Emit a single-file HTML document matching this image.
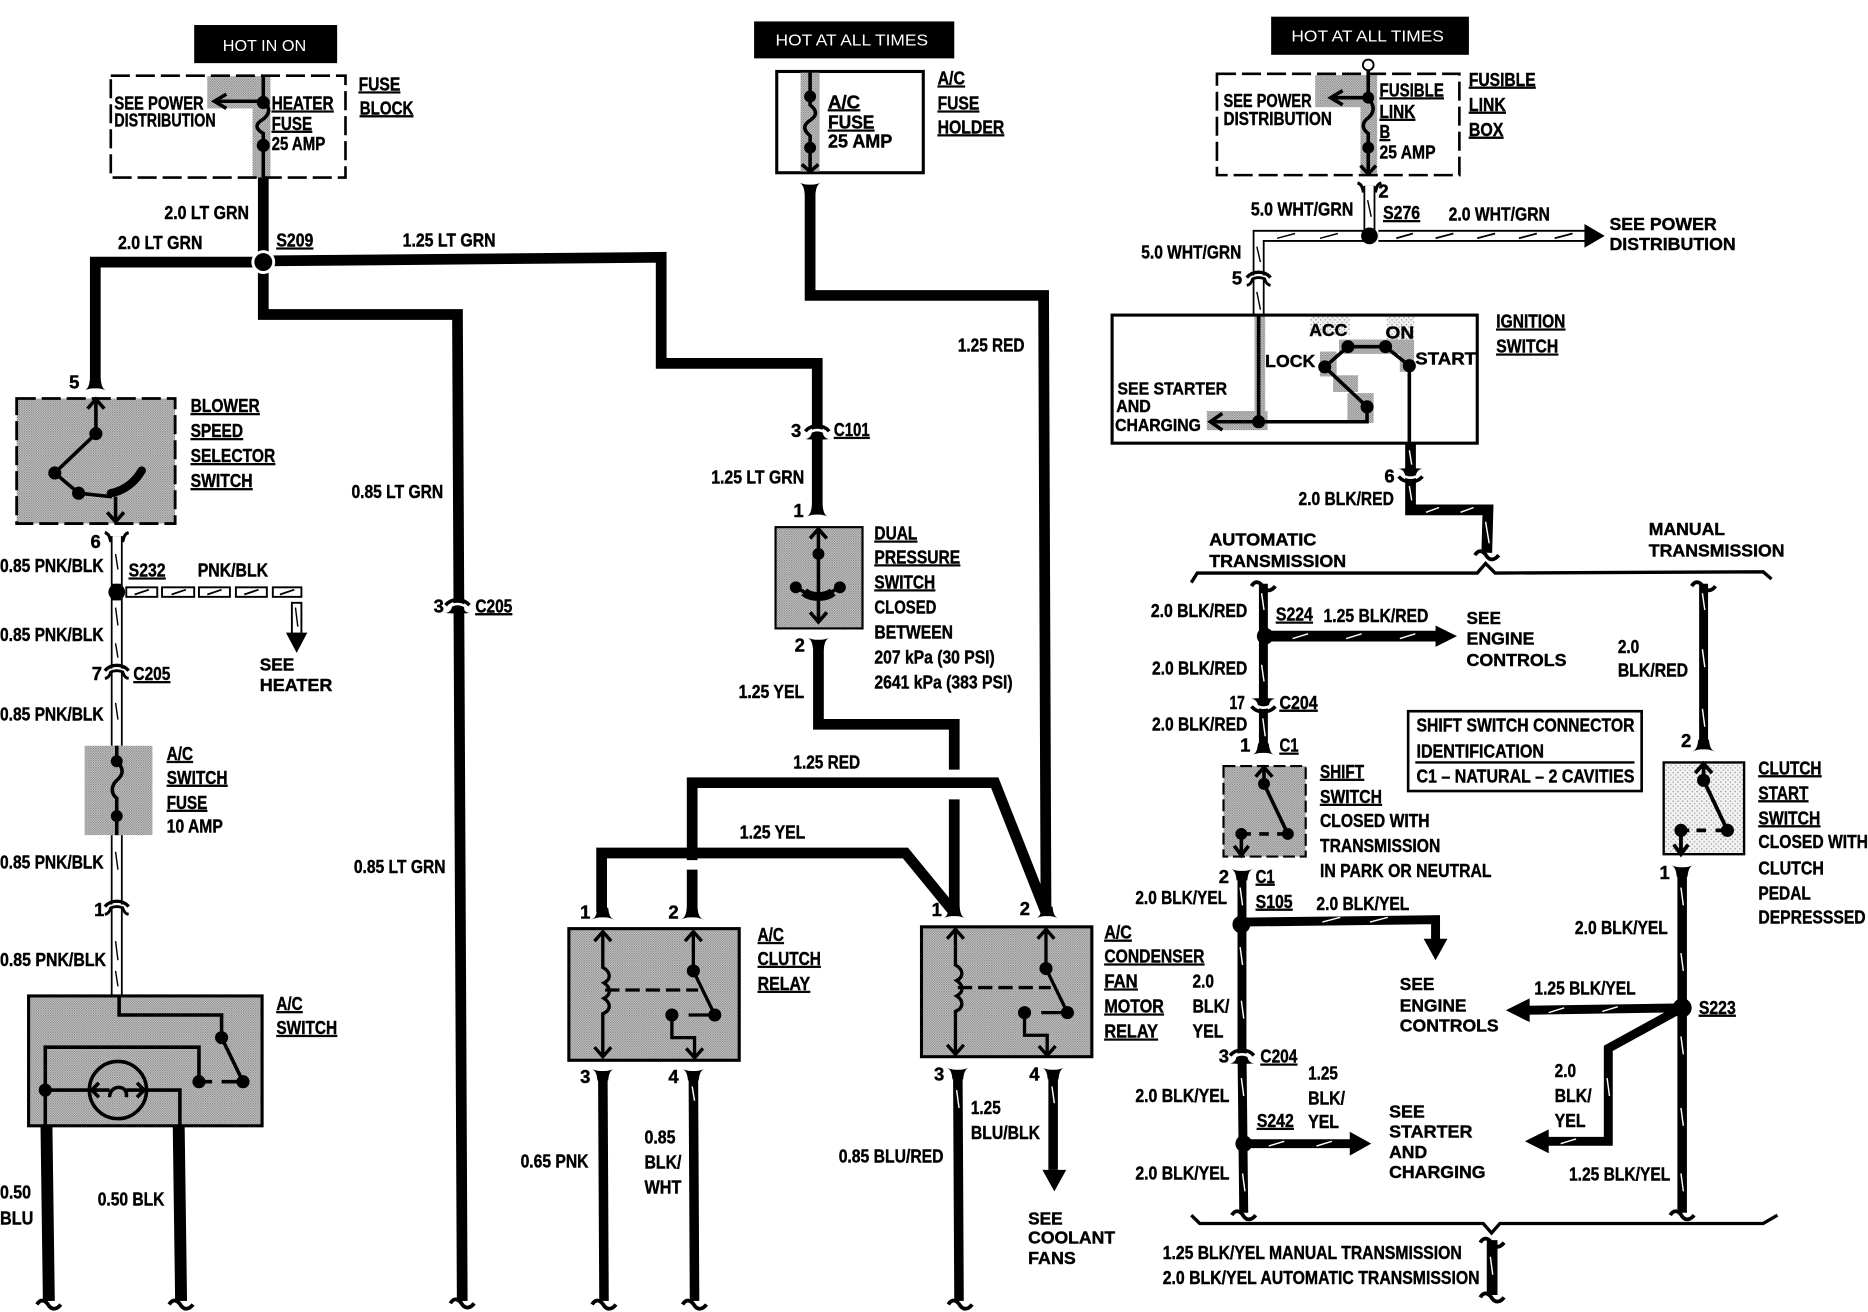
<!DOCTYPE html>
<html><head><meta charset="utf-8"><title>Wiring diagram</title>
<style>
html,body{margin:0;padding:0;background:#fff}
svg{display:block}
text{font:bold 15.5px "Liberation Sans",sans-serif;fill:#000;stroke:#000;stroke-width:.35}
.u{text-decoration:underline}
.w{font-weight:bold;font-size:15px}
.h{fill:#fff;stroke:none;font-weight:normal;font-size:13.5px}
.k{fill:none;stroke:#000;stroke-linecap:butt;stroke-linejoin:miter}
.t10{stroke-width:10}.t9{stroke-width:9}.t8{stroke-width:8}.t7{stroke-width:7.5}.t3{stroke-width:3}.t2{stroke-width:2}
.wo{fill:none;stroke:#000;stroke-width:10}
.wi{fill:none;stroke:#fff;stroke-width:7}
.s{fill:none;stroke:#fff;stroke-width:1.2}
.b{fill:none;stroke:#000;stroke-width:1.2}
</style></head>
<body>
<svg width="1868" height="1312" viewBox="0 0 1568 1101.3" preserveAspectRatio="none" xmlns="http://www.w3.org/2000/svg">
<defs>
<pattern id="g" width="2" height="2" patternUnits="userSpaceOnUse"><rect width="2" height="2" fill="#d2d2d2"/><rect width="1" height="1" fill="#777"/><rect x="1" y="1" width="1" height="1" fill="#8c8c8c"/></pattern>
<pattern id="l" width="4" height="4" patternUnits="userSpaceOnUse"><rect width="4" height="4" fill="#f2f2f2"/><rect width="1" height="1" fill="#888"/><rect x="2" y="2" width="1" height="1" fill="#999"/></pattern>
<g id="cd"><path d="M-10 0C-6-1-5-5-4.500-10H4.500C5-5 6-1 10 0C5-2 3-2 0-2C-3-2-5-2-10 0Z"/></g>
<g id="c2">
<path d="M-8 2C-3-2 3-2 8 2" fill="none" stroke="#fff" stroke-width="2.200"/>
<path d="M-10 0C-5-6 5-6 10 0" fill="none" stroke="#000" stroke-width="3"/>
<path d="M-10 6.500C-6 6-5 3-4.500 1H4.500C5 3 6 6 10 6.500C6 7 4 7 0 7C-4 7-6 7-10 6.500Z"/>
</g>
<g id="c2w">
<path d="M-8 2C-3-2 3-2 8 2" fill="none" stroke="#fff" stroke-width="3"/>
<path d="M-10 0C-5-6 5-6 10 0" fill="none" stroke="#000" stroke-width="2.800"/>
<path d="M-10 6.500C-7 6-6 4-5 1Q0-1 5 1C6 4 7 6 10 6.500" fill="none" stroke="#000" stroke-width="2.400"/>
</g>
<g id="cuw"><path d="M-10 0C-7 1-6 3-5 8M10 0C7 1 6 3 5 8" fill="none" stroke="#000" stroke-width="2.600"/></g>
<g id="sq"><path d="M-10 2C-7-3-3-2 0 3C3 7 7 6 10 2" fill="none" stroke="#000" stroke-width="3.200"/></g>
<g id="relay">
<path d="M0 3V33C7 37 7 43 1 46C7 50 7 56 1 59C7 63 7 69 0 72V108M-7 11L0 3L7 11M-7 100L0 108L7 100" fill="none" stroke="#000" stroke-width="2.800"/>
<path d="M2 52H80" fill="none" stroke="#000" stroke-width="2.800" stroke-dasharray="12 5"/>
<path d="M76 3V36L94 73H72M69 11L76 3L83 11M58 73V92H77V109M70 101L77 109L84 101" fill="none" stroke="#000" stroke-width="2.800"/>
<circle cx="76" cy="36" r="5.500"/><circle cx="94" cy="73" r="5.500"/><circle cx="58" cy="73" r="5.500"/>
</g>
</defs>
<rect width="1568" height="1102" fill="#fff"/>

<!-- Black headers -->
<rect x="163" y="21" width="120" height="32"/>
<text class="h" x="187" y="43" textLength="70" lengthAdjust="spacingAndGlyphs">HOT IN ON</text>
<rect x="633" y="18" width="168" height="31"/>
<text class="h" x="651" y="38" textLength="128" lengthAdjust="spacingAndGlyphs">HOT AT ALL TIMES</text>
<rect x="1067" y="14" width="166" height="32"/>
<text class="h" x="1084" y="35" textLength="128" lengthAdjust="spacingAndGlyphs">HOT AT ALL TIMES</text>

<!-- Fuse block -->
<rect x="174" y="64" width="52" height="27" fill="url(#g)"/>
<rect x="212" y="64" width="15" height="85" fill="url(#g)"/>
<rect x="93" y="63.500" width="197" height="85.500" fill="none" stroke="#000" stroke-width="2.200" stroke-dasharray="16 5"/>
<path class="k t3" d="M221 64V85H183M190 79L180 85L190 91"/>
<path class="k t3" d="M221 85C227 90 227 95 221 100C214 104 214 108 221 112V149"/>
<circle cx="221" cy="86" r="5.500"/><circle cx="221" cy="122" r="5.500"/>

<!-- Main left wires -->
<path class="k t9" d="M221 149V220"/>
<path class="k t9" d="M221 220H80V320"/>
<path class="k t9" d="M221 220V264H384L388 1092"/>
<path class="k t9" d="M221 219L555 216V305H686V425"/>
<circle cx="221" cy="220" r="10" fill="#fff"/><circle cx="221" cy="220" r="7.500"/>
<use href="#cd" x="80" y="328"/>
<use href="#c2" x="384" y="508"/>
<use href="#sq" x="388" y="1092"/>

<!-- Blower switch -->
<rect x="14" y="334.500" width="133" height="105" fill="url(#g)" stroke="#000" stroke-width="2.400" stroke-dasharray="16 5"/>
<path class="k t3" d="M80.500 335V364L46 397M73.500 343L80.500 335L87.500 343M46 397L66 414L94 417M97 417V438M90 430L97 438L104 430"/>
<path d="M93 414C104 412 113 405 119 395" fill="none" stroke="#000" stroke-width="7" stroke-linecap="round"/>
<circle cx="80.500" cy="364" r="5.500"/><circle cx="46" cy="397" r="5.500"/><circle cx="66" cy="414" r="5.500"/>

<!-- PNK/BLK white wires -->
<path class="wo" d="M98 450V626M98 701V836"/>
<path class="wi" d="M98 450V490M98 504V626M98 701V836"/>
<path class="b" d="M97 465L99 478M97 510L99 525M97 540L99 552M97 590L99 604M97 715L99 730M97 790L99 806M97 815L99 828"/>
<use href="#cuw" x="98" y="447"/>
<use href="#c2w" x="98" y="563"/>
<use href="#c2w" x="98" y="761"/>
<circle cx="98" cy="497" r="7"/>
<g fill="#fff" stroke="#000" stroke-width="1.600">
<rect x="106" y="493" width="26" height="8"/><rect x="136" y="493" width="27" height="8"/><rect x="167" y="493" width="26" height="8"/><rect x="198" y="493" width="26" height="8"/><rect x="229" y="493" width="24" height="8"/>
</g>
<path class="k" stroke-width="1.500" d="M113 499L125 495M144 499L156 495M174 499L186 495M205 499L217 495M235 499L247 495"/>
<rect x="245" y="506" width="8" height="26" fill="#fff" stroke="#000" stroke-width="1.600"/>
<path class="b" d="M248 510L250 526"/>
<path d="M240 531H258L249 548Z"/>

<!-- AC switch fuse -->
<rect x="71" y="626" width="57" height="75" fill="url(#g)"/>
<path class="k t3" d="M98 626V639C104 645 104 650 98 655C93 660 93 666 98 670V701"/>
<circle cx="98" cy="639" r="5"/><circle cx="98" cy="685" r="5"/>

<!-- AC switch -->
<rect x="24" y="836" width="196" height="109" fill="url(#g)" stroke="#000" stroke-width="2.600"/>
<path class="k t3" d="M100 836V852H186V871L204 908M204 908H186M178 908H172M167 908V879H38V945M38 915H75M123 915H151V945"/>
<circle cx="186" cy="871" r="5.500"/><circle cx="204" cy="908" r="5.500"/><circle cx="167" cy="908" r="5.500"/><circle cx="38" cy="915" r="5.500"/>
<circle cx="99" cy="915" r="24" fill="none" stroke="#000" stroke-width="3"/>
<path class="k t3" d="M78 915H92M92 921C92 910 108 910 106 921M106 915H120M83 909L77 915L83 921M115 909L121 915L115 921"/>
<path class="k t10" d="M39 945L41 1092M150 945L152 1092"/>
<use href="#sq" x="41" y="1093"/><use href="#sq" x="152" y="1093"/>

<!-- AC fuse holder -->
<rect x="652" y="60" width="123" height="85" fill="none" stroke="#000" stroke-width="2.600"/>
<rect x="672" y="61" width="16" height="83" fill="url(#g)"/>
<path class="k t3" d="M680 61V88C686 93 686 97 680 101C674 105 674 109 680 114V144M673 138L680 144L687 138"/>
<circle cx="680" cy="81" r="5"/><circle cx="680" cy="124" r="5"/>
<use href="#cd" transform="translate(680,153) scale(1,-1)"/>
<path class="k t9" d="M680 158V248H876L878 763"/>

<!-- dual pressure -->
<use href="#c2" x="686" y="362"/>
<use href="#cd" x="686" y="434"/>
<rect x="651" y="442.500" width="73" height="85" fill="url(#g)" stroke="#000" stroke-width="1.800"/>
<path class="k t3" d="M687 443V522M680 452L687 444L694 452M680 514L687 522L694 514M668 493L677 498M696 498L705 493"/>
<path d="M675 497C681 502 693 502 699 497" fill="none" stroke="#000" stroke-width="7.500"/>
<circle cx="687" cy="465" r="5"/><circle cx="668" cy="493" r="5"/><circle cx="705" cy="493" r="5"/>
<use href="#cd" transform="translate(687,535) scale(1,-1)"/>

<!-- relay feeds -->
<path class="k t9" d="M687 543V608H801V646M801 671V766"/>
<path class="k t9" d="M581 722V657H835L878 766"/>
<path class="k t9" d="M581 730V766"/>
<path class="k t9" d="M505 766V716H760L801 766"/>
<use href="#cd" x="506" y="772"/><use href="#cd" x="581" y="772"/><use href="#cd" x="801" y="771"/><use href="#cd" x="879" y="771"/>

<rect x="477.500" y="779.500" width="143" height="110.500" fill="url(#g)" stroke="#000" stroke-width="2.600"/>
<rect x="773.500" y="778" width="143" height="109" fill="url(#g)" stroke="#000" stroke-width="2.600"/>
<use href="#relay" x="506" y="779"/>
<use href="#relay" x="802" y="777"/>

<use href="#cd" transform="translate(506,897) scale(1,-1)"/><use href="#cd" transform="translate(582,897) scale(1,-1)"/><use href="#cd" transform="translate(804,896) scale(1,-1)"/><use href="#cd" transform="translate(884,896) scale(1,-1)"/>
<path class="k t8" d="M506 900L507 1092M582 900L583 1092M804 900L805 1092M884 900V982"/>
<path d="M875 982H895L885 1000Z"/>
<path class="s" d="M581 912L583 924M803 915L805 930M883 912L885 926"/>
<use href="#sq" x="507" y="1093"/><use href="#sq" x="583" y="1093"/><use href="#sq" x="806" y="1093"/>

<!-- Fusible link -->
<rect x="1104" y="63" width="46" height="27" fill="url(#g)"/>
<rect x="1142" y="63" width="14" height="84" fill="url(#g)"/>
<rect x="1021.500" y="62" width="203.500" height="85" fill="none" stroke="#000" stroke-width="2.200" stroke-dasharray="16 5"/>
<circle cx="1148.500" cy="54.500" r="4.500" fill="#fff" stroke="#000" stroke-width="1.600"/>
<path class="k t3" d="M1148.500 59V82H1120M1127 76L1117 82L1127 88"/>
<path class="k t3" d="M1148.500 82C1154 89 1154 94 1148.500 99C1143 103 1143 108 1148.500 112V145M1142 139L1148.500 146L1155 139"/>
<circle cx="1148.500" cy="82" r="5"/><circle cx="1148.500" cy="124" r="5"/>
<path class="wo" d="M1149.500 156V198H1056.500V264"/>
<path class="wi" d="M1149.500 156V198H1056.500V264"/>
<use href="#cuw" x="1149.500" y="153.500"/>
<path class="b" d="M1148 168L1151 182M1072 200L1087 196M1108 200L1123 196M1055 207L1058 220M1055 245L1058 260"/>
<circle cx="1149.500" cy="198" r="7"/>
<path class="wo" d="M1157 198H1331"/>
<path class="wi" d="M1157 198H1330"/>
<path class="k" stroke-width="1.500" d="M1172 200L1186 196M1205 200L1220 196M1240 200L1255 196M1275 200L1290 196M1305 200L1320 196"/>
<path d="M1330 188L1347 198L1330 208Z"/>
<use href="#c2w" x="1056.500" y="233"/>

<!-- Ignition switch -->
<path d="M1053 264H1062V355H1053ZM1013 345H1064V361H1013ZM1108 295H1122V316H1108ZM1119 315H1140V329H1119ZM1131 330H1153V355H1131ZM1124 285H1187V297H1124ZM1175 294H1187V312H1175Z" fill="url(#g)"/>
<path d="M1100 266H1133V281H1100ZM1164 266H1187V285H1164Z" fill="url(#l)"/>
<rect x="933.500" y="264.500" width="306.500" height="107.500" fill="none" stroke="#000" stroke-width="2.600"/>
<path class="k t3" d="M1056.500 265V354H1018M1026 347L1016 354L1026 361M1056.500 354H1147.500V341.500L1112 308L1131.500 291H1163L1183 307V372"/>
<circle cx="1056.500" cy="354" r="5.500"/><circle cx="1147.500" cy="341.500" r="5.500"/><circle cx="1112" cy="308" r="5.500"/><circle cx="1131.500" cy="291" r="5.500"/><circle cx="1163" cy="291" r="5.500"/><circle cx="1183" cy="307" r="5.500"/>
<path class="k t9" d="M1184 372V428H1249L1248 464"/>
<use href="#c2" transform="translate(1184,400) scale(1,-1)"/>
<path class="s" d="M1183 378L1185 390M1183 408L1185 420M1197 430L1208 426M1226 430L1237 426M1247 438L1250 456"/>
<path d="M1000 489L1005 481L1240 481L1247 473L1255 481L1480 480L1487 486" fill="none" stroke="#000" stroke-width="2.800"/>
<use href="#sq" x="1248" y="464"/>

<!-- Automatic branch -->
<path class="k t7" d="M1060.500 490V630"/>
<use href="#sq" x="1060.500" y="490"/>
<use href="#c2" transform="translate(1060.500,593) scale(1,-1)"/>
<use href="#cd" x="1060.500" y="634"/>
<circle cx="1062" cy="534" r="7"/>
<path class="k t9" d="M1062 534H1206"/>
<path d="M1205 525L1223 534L1205 543Z"/>
<path class="s" d="M1059 498L1061 512M1059 558L1061 572M1060 603L1062 618M1085 536L1098 532M1130 536L1143 532M1175 536L1188 532"/>
<rect x="1027" y="643" width="69" height="76" fill="url(#g)" stroke="#000" stroke-width="1.800" stroke-dasharray="10 4"/>
<path class="k t3" d="M1061 644V658L1081 700M1081 700H1072M1065 700H1057M1050 700H1042V717M1036 710L1042 718L1048 710M1054 652L1061 644L1068 652"/>
<circle cx="1061" cy="658" r="5"/><circle cx="1081" cy="700" r="5"/><circle cx="1042" cy="700" r="5"/>
<use href="#cd" transform="translate(1042.500,729) scale(1,-1)"/>
<path class="k t7" d="M1042.500 733V880L1044 1018"/>
<use href="#sq" x="1044" y="1018"/>
<circle cx="1042" cy="776" r="7.500"/>
<path class="k t7" d="M1042 774L1205 772V790"/>
<path d="M1195 788H1215L1205 806Z"/>
<use href="#c2" x="1042.500" y="886"/>
<circle cx="1044" cy="960" r="7"/>
<path class="k t7" d="M1044 960H1135"/>
<path d="M1133 950L1151 960L1133 970Z"/>
<path class="s" d="M1041 745L1043 760M1041 795L1043 810M1042 840L1044 855M1042 905L1044 920M1043 985L1045 1000M1065 962L1078 958M1105 962L1118 958M1110 774L1125 770M1150 774L1165 770"/>

<!-- Manual branch -->
<path class="k t7" d="M1430 490V628"/>
<use href="#sq" x="1430" y="490"/>
<use href="#cd" x="1430" y="631"/>
<rect x="1396.500" y="640" width="67.500" height="77" fill="url(#l)" stroke="#000" stroke-width="2"/>
<path class="k" stroke-width="3.200" d="M1430 641V655L1450 697M1450 697H1440M1432 697H1424M1418 697H1411V716M1405 709L1411 717L1417 709M1423 649L1430 641L1437 649"/>
<circle cx="1430" cy="655" r="5.500"/><circle cx="1450" cy="697" r="5.500"/><circle cx="1411" cy="697" r="5.500"/>
<use href="#cd" transform="translate(1412,726) scale(1,-1)"/>
<path class="k t8" d="M1412 730V1018"/>
<use href="#sq" x="1412" y="1018"/>
<path class="k t7" d="M1412 846L1282 848"/>
<path d="M1284 838L1264 848L1284 858Z"/>
<path class="k t7" d="M1412 846L1350 880V958H1298"/>
<path d="M1300 948L1280 958L1300 968Z"/>
<circle cx="1412" cy="846" r="8"/>
<path class="s" d="M1429 498L1431 512M1429 545L1431 560M1429 595L1431 610M1411 745L1413 760M1411 800L1413 815M1411 870L1413 885M1411 930L1413 945M1411 985L1413 1000M1300 850L1313 846M1345 849L1358 845M1349 905L1351 920M1310 960L1323 956"/>

<!-- Bottom bracket -->
<path d="M1000 1020L1007 1027H1245L1252 1035L1259 1027H1480L1492 1020" fill="none" stroke="#000" stroke-width="2.800"/>
<path class="k t9" d="M1252.500 1041V1087"/>
<use href="#sq" x="1252.500" y="1041"/>
<use href="#sq" x="1252.500" y="1087"/>
<path class="s" d="M1251 1055L1253 1070"/>

<!-- info box -->
<rect x="1182" y="597" width="196" height="67" fill="none" stroke="#000" stroke-width="2.200"/>
<path class="k t2" d="M1188 640H1372"/>

<!-- ===== TEXT ===== -->
<g>
<text class="u" x="301" y="76" textLength="35" lengthAdjust="spacingAndGlyphs">FUSE</text>
<text class="u" x="302" y="96" textLength="45" lengthAdjust="spacingAndGlyphs">BLOCK</text>
<text x="96" y="92" textLength="75" lengthAdjust="spacingAndGlyphs">SEE POWER</text>
<text x="96" y="106" textLength="85" lengthAdjust="spacingAndGlyphs">DISTRIBUTION</text>
<text class="u" x="228" y="92" textLength="52" lengthAdjust="spacingAndGlyphs">HEATER</text>
<text class="u" x="228" y="109" textLength="34" lengthAdjust="spacingAndGlyphs">FUSE</text>
<text x="228" y="126" textLength="45" lengthAdjust="spacingAndGlyphs">25 AMP</text>
<text x="138" y="184" textLength="71" lengthAdjust="spacingAndGlyphs">2.0 LT GRN</text>
<text x="99" y="209" textLength="71" lengthAdjust="spacingAndGlyphs">2.0 LT GRN</text>
<text class="u" x="232" y="207" textLength="31" lengthAdjust="spacingAndGlyphs">S209</text>
<text x="338" y="207" textLength="78" lengthAdjust="spacingAndGlyphs">1.25 LT GRN</text>
<text x="58" y="326">5</text>
<text class="u" x="160" y="346" textLength="58" lengthAdjust="spacingAndGlyphs">BLOWER</text>
<text class="u" x="160" y="367" textLength="44" lengthAdjust="spacingAndGlyphs">SPEED</text>
<text class="u" x="160" y="388" textLength="71" lengthAdjust="spacingAndGlyphs">SELECTOR</text>
<text class="u" x="160" y="409" textLength="52" lengthAdjust="spacingAndGlyphs">SWITCH</text>
<text x="295" y="418" textLength="77" lengthAdjust="spacingAndGlyphs">0.85 LT GRN</text>
<text x="364" y="514">3</text>
<text class="u" x="399" y="514" textLength="31" lengthAdjust="spacingAndGlyphs">C205</text>
<text x="297" y="733" textLength="77" lengthAdjust="spacingAndGlyphs">0.85 LT GRN</text>
<text x="76" y="460">6</text>
<text x="0" y="480" textLength="87" lengthAdjust="spacingAndGlyphs">0.85 PNK/BLK</text>
<text class="u" x="108" y="484" textLength="31" lengthAdjust="spacingAndGlyphs">S232</text>
<text x="166" y="484" textLength="59" lengthAdjust="spacingAndGlyphs">PNK/BLK</text>
<text class="w" x="218" y="563" textLength="29" lengthAdjust="spacingAndGlyphs">SEE</text>
<text class="w" x="218" y="580" textLength="61" lengthAdjust="spacingAndGlyphs">HEATER</text>
<text x="0" y="538" textLength="87" lengthAdjust="spacingAndGlyphs">0.85 PNK/BLK</text>
<text x="77" y="571">7</text>
<text class="u" x="112" y="571" textLength="31" lengthAdjust="spacingAndGlyphs">C205</text>
<text x="0" y="605" textLength="87" lengthAdjust="spacingAndGlyphs">0.85 PNK/BLK</text>
<text class="u" x="140" y="638" textLength="22" lengthAdjust="spacingAndGlyphs">A/C</text>
<text class="u" x="140" y="658" textLength="51" lengthAdjust="spacingAndGlyphs">SWITCH</text>
<text class="u" x="140" y="679" textLength="34" lengthAdjust="spacingAndGlyphs">FUSE</text>
<text x="140" y="699" textLength="47" lengthAdjust="spacingAndGlyphs">10 AMP</text>
<text x="0" y="729" textLength="87" lengthAdjust="spacingAndGlyphs">0.85 PNK/BLK</text>
<text x="79" y="769">1</text>
<text x="0" y="811" textLength="89" lengthAdjust="spacingAndGlyphs">0.85 PNK/BLK</text>
<text class="u" x="232" y="848" textLength="22" lengthAdjust="spacingAndGlyphs">A/C</text>
<text class="u" x="232" y="868" textLength="51" lengthAdjust="spacingAndGlyphs">SWITCH</text>
<text x="0" y="1006" textLength="26" lengthAdjust="spacingAndGlyphs">0.50</text>
<text x="0" y="1028" textLength="28" lengthAdjust="spacingAndGlyphs">BLU</text>
<text x="82" y="1012" textLength="56" lengthAdjust="spacingAndGlyphs">0.50 BLK</text>

<text class="u" x="787" y="71" textLength="23" lengthAdjust="spacingAndGlyphs">A/C</text>
<text class="u" x="787" y="92" textLength="35" lengthAdjust="spacingAndGlyphs">FUSE</text>
<text class="u" x="787" y="112" textLength="56" lengthAdjust="spacingAndGlyphs">HOLDER</text>
<text class="u" x="695" y="91" textLength="27" lengthAdjust="spacingAndGlyphs">A/C</text>
<text class="u" x="695" y="108" textLength="39" lengthAdjust="spacingAndGlyphs">FUSE</text>
<text x="695" y="124" textLength="54" lengthAdjust="spacingAndGlyphs">25 AMP</text>
<text x="804" y="295" textLength="56" lengthAdjust="spacingAndGlyphs">1.25 RED</text>
<text x="664" y="367">3</text>
<text class="u" x="700" y="366" textLength="30" lengthAdjust="spacingAndGlyphs">C101</text>
<text x="597" y="406" textLength="78" lengthAdjust="spacingAndGlyphs">1.25 LT GRN</text>
<text x="666" y="434">1</text>
<text class="u" x="734" y="453" textLength="36" lengthAdjust="spacingAndGlyphs">DUAL</text>
<text class="u" x="734" y="473" textLength="72" lengthAdjust="spacingAndGlyphs">PRESSURE</text>
<text class="u" x="734" y="494" textLength="51" lengthAdjust="spacingAndGlyphs">SWITCH</text>
<text x="734" y="515" textLength="52" lengthAdjust="spacingAndGlyphs">CLOSED</text>
<text x="734" y="536" textLength="66" lengthAdjust="spacingAndGlyphs">BETWEEN</text>
<text x="734" y="557" textLength="101" lengthAdjust="spacingAndGlyphs">207 kPa (30 PSI)</text>
<text x="734" y="578" textLength="116" lengthAdjust="spacingAndGlyphs">2641 kPa (383 PSI)</text>
<text x="667" y="547">2</text>
<text x="620" y="586" textLength="55" lengthAdjust="spacingAndGlyphs">1.25 YEL</text>
<text x="666" y="645" textLength="56" lengthAdjust="spacingAndGlyphs">1.25 RED</text>
<text x="621" y="704" textLength="55" lengthAdjust="spacingAndGlyphs">1.25 YEL</text>
<text x="487" y="771">1</text>
<text x="561" y="771">2</text>
<text class="u" x="636" y="790" textLength="22" lengthAdjust="spacingAndGlyphs">A/C</text>
<text class="u" x="636" y="810" textLength="53" lengthAdjust="spacingAndGlyphs">CLUTCH</text>
<text class="u" x="636" y="831" textLength="44" lengthAdjust="spacingAndGlyphs">RELAY</text>
<text x="782" y="769">1</text>
<text x="856" y="768">2</text>
<text class="u" x="927" y="788" textLength="23" lengthAdjust="spacingAndGlyphs">A/C</text>
<text class="u" x="927" y="808" textLength="84" lengthAdjust="spacingAndGlyphs">CONDENSER</text>
<text class="u" x="927" y="829" textLength="28" lengthAdjust="spacingAndGlyphs">FAN</text>
<text class="u" x="927" y="850" textLength="50" lengthAdjust="spacingAndGlyphs">MOTOR</text>
<text class="u" x="927" y="871" textLength="45" lengthAdjust="spacingAndGlyphs">RELAY</text>
<text x="1001" y="829" textLength="18" lengthAdjust="spacingAndGlyphs">2.0</text>
<text x="1001" y="850" textLength="31" lengthAdjust="spacingAndGlyphs">BLK/</text>
<text x="1001" y="871" textLength="26" lengthAdjust="spacingAndGlyphs">YEL</text>
<text x="487" y="909">3</text>
<text x="561" y="909">4</text>
<text x="784" y="907">3</text>
<text x="864" y="907">4</text>
<text x="815" y="935" textLength="25" lengthAdjust="spacingAndGlyphs">1.25</text>
<text x="815" y="956" textLength="58" lengthAdjust="spacingAndGlyphs">BLU/BLK</text>
<text x="437" y="980" textLength="57" lengthAdjust="spacingAndGlyphs">0.65 PNK</text>
<text x="541" y="960" textLength="26" lengthAdjust="spacingAndGlyphs">0.85</text>
<text x="541" y="981" textLength="31" lengthAdjust="spacingAndGlyphs">BLK/</text>
<text x="541" y="1002" textLength="31" lengthAdjust="spacingAndGlyphs">WHT</text>
<text x="704" y="976" textLength="88" lengthAdjust="spacingAndGlyphs">0.85 BLU/RED</text>
<text class="w" x="863" y="1028" textLength="29" lengthAdjust="spacingAndGlyphs">SEE</text>
<text class="w" x="863" y="1044" textLength="73" lengthAdjust="spacingAndGlyphs">COOLANT</text>
<text class="w" x="863" y="1061" textLength="40" lengthAdjust="spacingAndGlyphs">FANS</text>

<text class="u" x="1233" y="72" textLength="56" lengthAdjust="spacingAndGlyphs">FUSIBLE</text>
<text class="u" x="1233" y="93" textLength="31" lengthAdjust="spacingAndGlyphs">LINK</text>
<text class="u" x="1233" y="114" textLength="29" lengthAdjust="spacingAndGlyphs">BOX</text>
<text x="1027" y="90" textLength="74" lengthAdjust="spacingAndGlyphs">SEE POWER</text>
<text x="1027" y="105" textLength="91" lengthAdjust="spacingAndGlyphs">DISTRIBUTION</text>
<text class="u" x="1158" y="81" textLength="54" lengthAdjust="spacingAndGlyphs">FUSIBLE</text>
<text class="u" x="1158" y="99" textLength="30" lengthAdjust="spacingAndGlyphs">LINK</text>
<text class="u" x="1158" y="116" textLength="9" lengthAdjust="spacingAndGlyphs">B</text>
<text x="1158" y="133" textLength="47" lengthAdjust="spacingAndGlyphs">25 AMP</text>
<text x="1157" y="166">2</text>
<text x="1050" y="181" textLength="86" lengthAdjust="spacingAndGlyphs">5.0 WHT/GRN</text>
<text class="u" x="1161" y="184" textLength="31" lengthAdjust="spacingAndGlyphs">S276</text>
<text x="1216" y="185" textLength="85" lengthAdjust="spacingAndGlyphs">2.0 WHT/GRN</text>
<text class="w" x="1351" y="193" textLength="90" lengthAdjust="spacingAndGlyphs">SEE POWER</text>
<text class="w" x="1351" y="210" textLength="106" lengthAdjust="spacingAndGlyphs">DISTRIBUTION</text>
<text x="958" y="217" textLength="84" lengthAdjust="spacingAndGlyphs">5.0 WHT/GRN</text>
<text x="1034" y="239">5</text>
<text class="u" x="1256" y="275" textLength="58" lengthAdjust="spacingAndGlyphs">IGNITION</text>
<text class="u" x="1256" y="296" textLength="52" lengthAdjust="spacingAndGlyphs">SWITCH</text>
<text class="w" x="1099" y="282" textLength="32" lengthAdjust="spacingAndGlyphs">ACC</text>
<text class="w" x="1163" y="284" textLength="24" lengthAdjust="spacingAndGlyphs">ON</text>
<text class="w" x="1062" y="308" textLength="42" lengthAdjust="spacingAndGlyphs">LOCK</text>
<text class="w" x="1188" y="306" textLength="51" lengthAdjust="spacingAndGlyphs">START</text>
<text class="w" x="938" y="331" textLength="92" lengthAdjust="spacingAndGlyphs">SEE STARTER</text>
<text class="w" x="937" y="346" textLength="29" lengthAdjust="spacingAndGlyphs">AND</text>
<text class="w" x="936" y="362" textLength="72" lengthAdjust="spacingAndGlyphs">CHARGING</text>
<text x="1162" y="405">6</text>
<text x="1090" y="424" textLength="80" lengthAdjust="spacingAndGlyphs">2.0 BLK/RED</text>
<text class="w" x="1015" y="458" textLength="90" lengthAdjust="spacingAndGlyphs">AUTOMATIC</text>
<text class="w" x="1015" y="476" textLength="115" lengthAdjust="spacingAndGlyphs">TRANSMISSION</text>
<text class="w" x="1384" y="449" textLength="64" lengthAdjust="spacingAndGlyphs">MANUAL</text>
<text class="w" x="1384" y="467" textLength="114" lengthAdjust="spacingAndGlyphs">TRANSMISSION</text>
<text x="966" y="518" textLength="81" lengthAdjust="spacingAndGlyphs">2.0 BLK/RED</text>
<text class="u" x="1071" y="521" textLength="31" lengthAdjust="spacingAndGlyphs">S224</text>
<text x="1111" y="522" textLength="88" lengthAdjust="spacingAndGlyphs">1.25 BLK/RED</text>
<text class="w" x="1231" y="524" textLength="29" lengthAdjust="spacingAndGlyphs">SEE</text>
<text class="w" x="1231" y="541" textLength="57" lengthAdjust="spacingAndGlyphs">ENGINE</text>
<text class="w" x="1231" y="559" textLength="84" lengthAdjust="spacingAndGlyphs">CONTROLS</text>
<text x="1358" y="548" textLength="18" lengthAdjust="spacingAndGlyphs">2.0</text>
<text x="1358" y="568" textLength="59" lengthAdjust="spacingAndGlyphs">BLK/RED</text>
<text x="967" y="566" textLength="80" lengthAdjust="spacingAndGlyphs">2.0 BLK/RED</text>
<text x="1032" y="595" textLength="13" lengthAdjust="spacingAndGlyphs">17</text>
<text class="u" x="1074" y="595" textLength="32" lengthAdjust="spacingAndGlyphs">C204</text>
<text x="967" y="613" textLength="80" lengthAdjust="spacingAndGlyphs">2.0 BLK/RED</text>
<text x="1041" y="631">1</text>
<text class="u" x="1074" y="631" textLength="16" lengthAdjust="spacingAndGlyphs">C1</text>
<text x="1411" y="627">2</text>
<text x="1189" y="614" textLength="183" lengthAdjust="spacingAndGlyphs">SHIFT SWITCH CONNECTOR</text>
<text x="1189" y="636" textLength="107" lengthAdjust="spacingAndGlyphs">IDENTIFICATION</text>
<text x="1189" y="657" textLength="183" lengthAdjust="spacingAndGlyphs">C1 – NATURAL – 2 CAVITIES</text>
<text class="u" x="1108" y="653" textLength="37" lengthAdjust="spacingAndGlyphs">SHIFT</text>
<text class="u" x="1108" y="674" textLength="52" lengthAdjust="spacingAndGlyphs">SWITCH</text>
<text x="1108" y="694" textLength="92" lengthAdjust="spacingAndGlyphs">CLOSED WITH</text>
<text x="1108" y="715" textLength="101" lengthAdjust="spacingAndGlyphs">TRANSMISSION</text>
<text x="1108" y="736" textLength="144" lengthAdjust="spacingAndGlyphs">IN PARK OR NEUTRAL</text>
<text class="u" x="1476" y="650" textLength="53" lengthAdjust="spacingAndGlyphs">CLUTCH</text>
<text class="u" x="1476" y="671" textLength="42" lengthAdjust="spacingAndGlyphs">START</text>
<text class="u" x="1476" y="692" textLength="52" lengthAdjust="spacingAndGlyphs">SWITCH</text>
<text x="1476" y="712" textLength="92" lengthAdjust="spacingAndGlyphs">CLOSED WITH</text>
<text x="1476" y="734" textLength="55" lengthAdjust="spacingAndGlyphs">CLUTCH</text>
<text x="1476" y="755" textLength="44" lengthAdjust="spacingAndGlyphs">PEDAL</text>
<text x="1476" y="775" textLength="90" lengthAdjust="spacingAndGlyphs">DEPRESSSED</text>
<text x="1023" y="741">2</text>
<text class="u" x="1054" y="741" textLength="16" lengthAdjust="spacingAndGlyphs">C1</text>
<text x="953" y="759" textLength="77" lengthAdjust="spacingAndGlyphs">2.0 BLK/YEL</text>
<text class="u" x="1054" y="762" textLength="31" lengthAdjust="spacingAndGlyphs">S105</text>
<text x="1105" y="764" textLength="78" lengthAdjust="spacingAndGlyphs">2.0 BLK/YEL</text>
<text x="1393" y="738">1</text>
<text x="1322" y="784" textLength="78" lengthAdjust="spacingAndGlyphs">2.0 BLK/YEL</text>
<text class="w" x="1175" y="831" textLength="29" lengthAdjust="spacingAndGlyphs">SEE</text>
<text class="w" x="1175" y="849" textLength="56" lengthAdjust="spacingAndGlyphs">ENGINE</text>
<text class="w" x="1175" y="866" textLength="83" lengthAdjust="spacingAndGlyphs">CONTROLS</text>
<text x="1288" y="835" textLength="85" lengthAdjust="spacingAndGlyphs">1.25 BLK/YEL</text>
<text class="u" x="1426" y="851" textLength="31" lengthAdjust="spacingAndGlyphs">S223</text>
<text x="1023" y="892">3</text>
<text class="u" x="1058" y="892" textLength="31" lengthAdjust="spacingAndGlyphs">C204</text>
<text x="1098" y="906" textLength="25" lengthAdjust="spacingAndGlyphs">1.25</text>
<text x="1098" y="927" textLength="31" lengthAdjust="spacingAndGlyphs">BLK/</text>
<text x="1098" y="947" textLength="26" lengthAdjust="spacingAndGlyphs">YEL</text>
<text x="953" y="925" textLength="79" lengthAdjust="spacingAndGlyphs">2.0 BLK/YEL</text>
<text class="u" x="1055" y="946" textLength="31" lengthAdjust="spacingAndGlyphs">S242</text>
<text class="w" x="1166" y="938" textLength="30" lengthAdjust="spacingAndGlyphs">SEE</text>
<text class="w" x="1166" y="955" textLength="70" lengthAdjust="spacingAndGlyphs">STARTER</text>
<text class="w" x="1166" y="972" textLength="32" lengthAdjust="spacingAndGlyphs">AND</text>
<text class="w" x="1166" y="989" textLength="81" lengthAdjust="spacingAndGlyphs">CHARGING</text>
<text x="1305" y="904" textLength="18" lengthAdjust="spacingAndGlyphs">2.0</text>
<text x="1305" y="925" textLength="31" lengthAdjust="spacingAndGlyphs">BLK/</text>
<text x="1305" y="946" textLength="26" lengthAdjust="spacingAndGlyphs">YEL</text>
<text x="953" y="990" textLength="79" lengthAdjust="spacingAndGlyphs">2.0 BLK/YEL</text>
<text x="1317" y="991" textLength="85" lengthAdjust="spacingAndGlyphs">1.25 BLK/YEL</text>
<text x="976" y="1057" textLength="251" lengthAdjust="spacingAndGlyphs">1.25 BLK/YEL MANUAL TRANSMISSION</text>
<text x="976" y="1078" textLength="266" lengthAdjust="spacingAndGlyphs">2.0 BLK/YEL AUTOMATIC TRANSMISSION</text>
</g>
</svg>
</body></html>
